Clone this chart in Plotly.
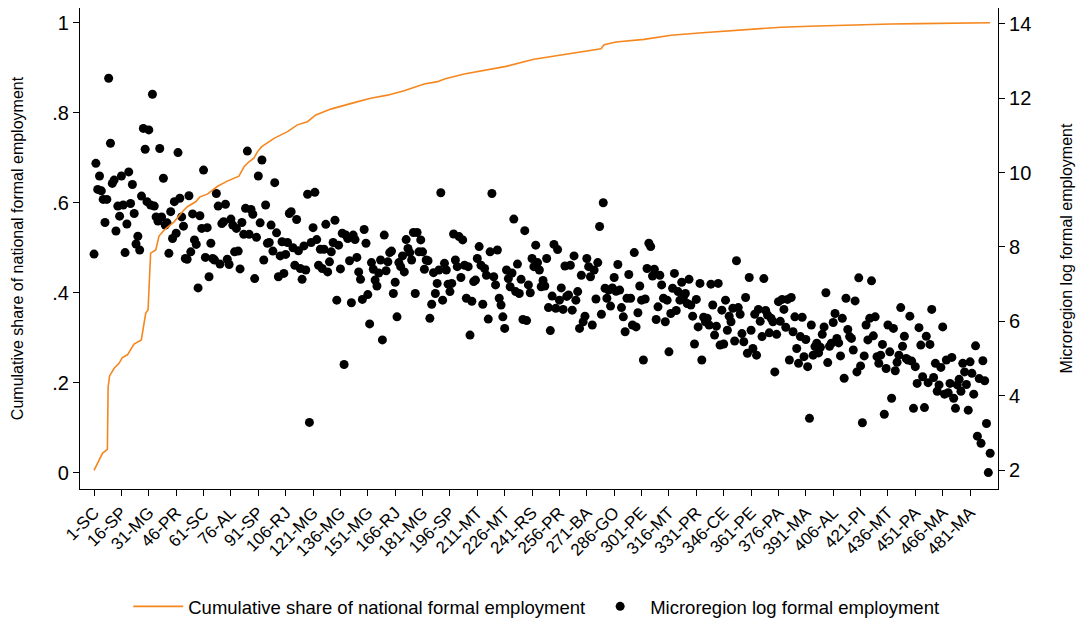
import plotly.graph_objects as go

# Microregion tick labels (rank-state)
tick_labels = ["1-SC", "16-SP", "31-MG", "46-PR", "61-SC", "76-AL", "91-SP", "106-RJ",
               "121-MG", "136-MG", "151-MG", "166-RJ", "181-MG", "196-SP", "211-MT",
               "226-MT", "241-RS", "256-PR", "271-BA", "286-GO", "301-PE", "316-MT",
               "331-PR", "346-CE", "361-PE", "376-PA", "391-MA", "406-AL", "421-PI",
               "436-MT", "451-PA", "466-MA", "481-MA"]
tick_ranks = [int(lbl.split("-")[0]) for lbl in tick_labels]

# Log formal employment by microregion rank
log_emp = [
    7.81, 10.25, 9.55, 9.91, 9.51, 9.28, 8.66, 9.28, 12.54, 10.79,
    9.71, 9.80, 8.43, 9.10, 8.83, 9.91, 9.13, 7.85, 8.62, 10.02,
    9.17, 9.68, 8.90, 8.08, 8.29, 7.92, 9.37, 11.19, 10.63, 9.22,
    11.15, 9.13, 12.11, 9.10, 8.81, 8.70, 10.65, 8.81, 9.85, 8.59,
    8.65, 7.83, 8.95, 8.23, 9.22,
    8.37, 10.54, 9.31, 8.81, 8.56, 7.69, 7.67, 9.38, 7.87, 8.89,
    8.19, 8.07, 6.90, 8.84, 8.50, 10.07, 7.72, 8.52, 7.20, 8.10,
    7.69, 7.65, 9.44, 9.10, 7.54, 8.63, 8.68, 9.15, 7.67, 7.53,
    8.75, 8.59, 7.87, 8.50, 7.89, 7.41, 8.66, 8.34, 9.04, 10.58,
    8.34, 9.01, 8.88, 7.15, 8.26, 9.91, 8.65, 10.34, 7.65, 9.13,
    8.10,
    8.12, 8.59, 7.89, 9.73, 8.38, 7.20, 7.76, 8.14, 7.29, 7.80,
    8.12, 8.90, 8.95, 7.98, 7.51, 8.74, 7.90, 7.42, 7.13, 8.03,
    7.38, 9.42, 3.28, 8.12, 8.52, 9.47, 8.20, 7.51, 7.94, 7.42,
    7.94, 8.61, 7.33, 7.60, 7.87, 8.12, 8.72, 6.57, 8.05, 7.41,
    8.37, 4.84, 8.32, 8.23, 7.63, 6.50,
    8.32, 8.20, 7.72, 7.33, 7.13, 6.59, 8.47, 8.10, 6.72, 5.93,
    7.58, 7.40, 7.11, 6.95, 7.30, 7.65, 5.50, 8.32, 7.36, 7.60,
    7.85, 7.89, 6.75, 7.05, 6.12, 7.58, 7.47, 7.76, 7.33, 8.20,
    7.96, 7.85, 7.65, 8.39, 6.75, 8.39, 7.87, 8.19, 7.87, 7.40,
    7.65, 7.63, 6.08, 6.46, 7.31, 6.75, 7.02, 7.38, 9.46, 6.57,
    7.56,
    7.38, 7.00, 6.80, 7.02, 8.35, 7.65, 7.47, 8.28, 7.18, 8.19,
    7.51, 6.62, 7.47, 5.63, 6.54, 7.07, 7.11, 7.69, 8.01, 7.51,
    6.46, 7.42, 7.24, 6.06, 7.87, 9.44, 7.20, 6.98, 7.92, 6.62,
    6.44, 6.12, 5.81, 7.38, 7.15, 6.93, 7.30, 8.75, 6.80, 7.54,
    6.75, 7.13, 6.05, 8.44, 6.02, 6.98, 6.77, 7.69, 7.47, 8.05,
    7.58, 7.38, 6.93, 7.10, 6.95, 7.69, 6.37, 5.75, 6.68, 8.07,
    6.35, 7.93, 6.57, 6.90, 6.32, 7.49, 6.67, 6.71, 7.51, 6.30,
    7.76, 6.57, 6.80, 5.81, 7.24, 5.99, 6.14, 7.69, 7.47, 7.20,
    5.90, 7.38, 6.60, 7.58, 8.55, 6.19, 9.19, 6.89, 6.62, 6.84,
    6.41, 6.90, 7.18, 6.81, 7.53, 6.84, 6.37, 6.12, 5.72,
    6.62, 7.26, 6.62, 5.90, 7.85, 5.85, 6.23, 6.95, 6.57, 4.96,
    6.60, 7.42, 8.10, 8.01, 7.22, 7.40, 6.05, 6.39, 7.24, 6.98,
    6.62, 5.99, 6.57, 5.18, 6.21, 6.89, 7.29, 6.29, 6.80, 6.57,
    7.05, 6.66, 6.75, 6.48, 7.13, 6.44, 6.14, 5.39, 6.59, 5.85,
    7.02, 4.96, 6.11, 5.99, 6.08, 5.90, 7.00, 6.44, 5.63,
    5.87, 7.02, 5.36, 6.30, 5.39, 6.57, 5.76, 6.14, 5.99, 6.35,
    5.47, 7.63, 6.37, 6.19, 5.67, 5.45, 6.64, 5.14, 7.18, 5.76,
    5.27, 6.19, 5.09, 6.32, 6.00, 5.59, 7.15, 6.29, 6.17, 5.69,
    6.08, 5.99, 4.64, 5.65, 6.53, 6.00, 6.59, 6.32, 5.84, 6.59,
    4.96, 6.64, 5.72, 6.12, 5.27, 4.87, 5.59, 6.11, 5.05,
    5.51, 4.78, 3.39, 5.90, 5.09, 5.32, 5.41, 5.15, 5.30, 5.65,
    5.85, 6.77, 4.89, 5.33, 5.41, 5.97, 6.21, 5.54, 5.42, 5.07,
    6.08, 4.47, 6.62, 5.78, 5.59, 5.54, 5.23, 6.55, 4.64, 7.17,
    4.80, 3.27, 5.07, 5.90, 5.50, 6.08, 7.09, 5.61, 6.12, 5.05,
    4.87, 5.09, 5.38, 3.50, 4.73, 5.90, 5.18, 3.93, 5.81, 4.67,
    4.90, 5.09, 6.37, 5.33, 5.60, 5.00, 4.96, 6.14, 4.93, 3.66,
    4.78, 4.33, 5.83, 5.36, 4.51, 3.68, 5.60, 4.35, 5.38, 6.32,
    4.49, 4.87, 4.12, 4.29, 4.76, 5.85, 4.04, 4.96, 4.08, 4.33,
    5.03, 3.93, 3.66, 4.29, 4.44, 4.12, 4.87, 4.64, 4.30, 3.61,
    4.91, 4.60, 4.04, 5.34, 2.91, 4.46, 2.72, 4.94, 4.40, 3.25,
    1.93, 2.45,
]
ranks = list(range(1, len(log_emp) + 1))

# Cumulative share of national formal employment (vertices of the curve)
cum_rank = [1, 2.8, 5.6, 8.3, 8.7, 9.5, 12, 14.7, 16.5, 19.3, 22.9, 26.9, 28, 29.3,
            30.6, 31.5, 32, 34.8, 36.6, 39.4, 43, 45, 49.4, 52.1, 56.7, 59, 63.1,
            68.5, 74, 80.4, 83.2, 85.9, 88.6, 90.5, 92.7, 95.2, 99.6, 107, 112.4,
            117.9, 122.5, 130.7, 138, 144, 152.6, 161.8, 170.9, 181.9, 189.2, 193,
            203.8, 216.5, 226.8, 242, 256.9, 272.2, 278.8, 280.5, 287, 302.4,
            317.2, 332.5, 347.3, 362.6, 377.4, 392.8, 407.6, 422.9, 437.7, 453,
            467.8, 492]
cum_share = [0.005, 0.021, 0.043, 0.052, 0.19, 0.215, 0.232, 0.243, 0.256, 0.262,
             0.286, 0.295, 0.324, 0.354, 0.362, 0.45, 0.488, 0.495, 0.526, 0.539,
             0.55, 0.558, 0.58, 0.591, 0.602, 0.613, 0.619, 0.636, 0.648, 0.659,
             0.68, 0.691, 0.699, 0.713, 0.724, 0.731, 0.743, 0.758, 0.773, 0.78,
             0.795, 0.808, 0.817, 0.823, 0.832, 0.839, 0.849, 0.864, 0.869, 0.875,
             0.886, 0.895, 0.903, 0.919, 0.928, 0.937, 0.942, 0.951, 0.957, 0.963,
             0.972, 0.977, 0.981, 0.985, 0.99, 0.992, 0.994, 0.996, 0.997, 0.998,
             0.999, 1.0]

share_ticks = [0, 0.2, 0.4, 0.6, 0.8, 1]
share_tick_text = ["0", ".2", ".4", ".6", ".8", "1"]
log_ticks = [2, 4, 6, 8, 10, 12, 14]

FONT = "Liberation Sans, Arial, Helvetica, sans-serif"
ORANGE = "#F5871F"

fig = go.Figure()
fig.add_trace(go.Scatter(
    x=ranks, y=log_emp, mode="markers", yaxis="y",
    marker=dict(color="black", size=9, line=dict(width=0)),
    name="Microregion log formal employment", legendrank=2,
))
fig.add_trace(go.Scatter(
    x=cum_rank, y=cum_share, mode="lines", yaxis="y2",
    line=dict(color=ORANGE, width=1.6),
    name="Cumulative share of national formal employment", legendrank=1,
))

axis_common = dict(showgrid=False, zeroline=False, showline=True, linecolor="black",
                   linewidth=1.2, ticks="outside", ticklen=6, tickcolor="black",
                   tickwidth=1.2)

fig.update_layout(
    width=1083, height=622,
    margin=dict(l=80, r=85, t=8, b=133, autoexpand=False),
    paper_bgcolor="white", plot_bgcolor="white",
    font=dict(family=FONT, color="black"),
    xaxis=dict(range=[-6.7, 496.3], tickvals=tick_ranks, ticktext=tick_labels,
               tickangle=-45, tickfont=dict(size=17), **axis_common),
    yaxis=dict(side="right", range=[1.489, 14.43], tickvals=log_ticks,
               tickfont=dict(size=20),
               title=dict(text="Microregion log formal employment",
                          font=dict(size=16), standoff=30),
               **axis_common),
    yaxis2=dict(side="left", overlaying="y", range=[-0.0362, 1.0327],
                tickvals=share_ticks, ticktext=share_tick_text,
                tickfont=dict(size=20),
                title=dict(text="Cumulative share of national formal employment",
                           font=dict(size=16), standoff=24),
                **axis_common),
    legend=dict(orientation="h", x=0.497, xanchor="center", y=-0.245,
                yanchor="middle", font=dict(size=18.5), bgcolor="rgba(0,0,0,0)",
                itemwidth=50, traceorder="normal"),
    showlegend=True,
)

fig.write_html("out.html")
